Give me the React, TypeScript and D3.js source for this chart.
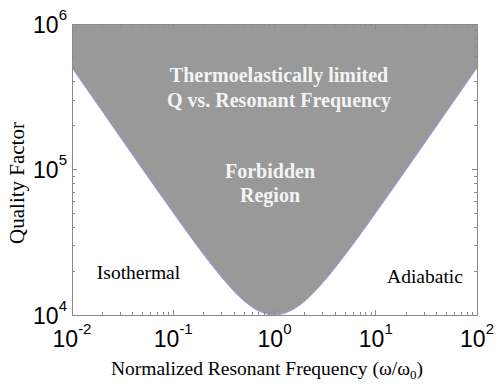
import React, { useEffect, useRef } from 'react';
import * as d3 from 'd3';

// normalized frequency (w/w0) and thermoelastic Q limit
const freq = [0.01, 0.02, 0.05, 0.1, 0.2, 0.3, 0.5, 0.7, 1, 1.4, 2, 3, 5, 10, 20, 50, 100];
const qLimit = [500000, 250000, 100000, 50500, 26000, 18200, 12500, 10650, 10000, 10600, 12500, 16700, 26000, 50500, 100000, 250000, 500000];

const xDecades = [-2, -1, 0, 1, 2];
const yDecades = [4, 5, 6];

export default function App() {
  const svgRef = useRef<SVGSVGElement>(null);

  useEffect(() => {
    if (!svgRef.current) return;
    const width = 496;
    const height = 385;
    const m = { left: 72, right: 477, top: 24, bottom: 315 };

    const svg = d3.select(svgRef.current);
    svg.selectAll('*').remove();
    svg.attr('width', width).attr('height', height);

    const x = d3.scaleLog().domain([0.01, 100]).range([m.left, m.right]);
    const y = d3.scaleLog().domain([1e4, 1e6]).range([m.bottom, m.top]);

    const pts = freq.map((f, i) => ({ f, q: qLimit[i] }));

    svg.append('rect').attr('x', 0).attr('y', 0).attr('width', width).attr('height', height).attr('fill', '#fff');

    const area = d3
      .area<{ f: number; q: number }>()
      .x((d) => x(d.f))
      .y0(m.top)
      .y1((d) => y(d.q))
      .curve(d3.curveMonotoneX);

    svg.append('path').datum(pts).attr('d', area).attr('fill', '#999999');

    const line = d3
      .line<{ f: number; q: number }>()
      .x((d) => x(d.f))
      .y((d) => y(d.q))
      .curve(d3.curveMonotoneX);

    svg.append('path').datum(pts).attr('d', line).attr('fill', 'none').attr('stroke', '#9a9aee').attr('stroke-width', 1);

    // box and ticks
    const axisColor = '#8a8a8a';
    const g = svg.append('g').attr('stroke', axisColor).attr('stroke-width', 1).attr('shape-rendering', 'crispEdges');
    g.append('rect')
      .attr('x', m.left)
      .attr('y', m.top)
      .attr('width', m.right - m.left)
      .attr('height', m.bottom - m.top)
      .attr('fill', 'none');

    const xTicks: { v: number; major: boolean }[] = [];
    for (let d = -2; d < 2; d++) {
      for (let k = 1; k < 10; k++) xTicks.push({ v: k * Math.pow(10, d), major: k === 1 });
    }
    xTicks.push({ v: 100, major: true });
    xTicks.forEach((t) => {
      const px = x(t.v);
      const len = t.major ? 5 : 3;
      g.append('line').attr('x1', px).attr('x2', px).attr('y1', m.bottom).attr('y2', m.bottom - len);
      g.append('line').attr('x1', px).attr('x2', px).attr('y1', m.top).attr('y2', m.top + len);
    });

    const yTicks: { v: number; major: boolean }[] = [];
    for (let d = 4; d < 6; d++) {
      for (let k = 1; k < 10; k++) yTicks.push({ v: k * Math.pow(10, d), major: k === 1 });
    }
    yTicks.push({ v: 1e6, major: true });
    yTicks.forEach((t) => {
      const py = y(t.v);
      const len = t.major ? 5 : 3;
      g.append('line').attr('x1', m.left).attr('x2', m.left + len).attr('y1', py).attr('y2', py);
      g.append('line').attr('x1', m.right).attr('x2', m.right - len).attr('y1', py).attr('y2', py);
    });

    const sans = 'Liberation Sans, Arial, sans-serif';
    const serif = 'Liberation Serif, Times New Roman, serif';

    xDecades.forEach((d) => {
      const t = svg
        .append('text')
        .attr('x', x(Math.pow(10, d)))
        .attr('y', 347)
        .attr('text-anchor', 'middle')
        .attr('font-family', sans)
        .attr('font-size', 23)
        .attr('fill', '#000');
      t.append('tspan').text('10');
      t.append('tspan').attr('dy', -13).attr('font-size', 15).text(String(d));
    });

    yDecades.forEach((d) => {
      const t = svg
        .append('text')
        .attr('x', 67)
        .attr('y', y(Math.pow(10, d)) + 8.5)
        .attr('text-anchor', 'end')
        .attr('font-family', sans)
        .attr('font-size', 23)
        .attr('fill', '#000');
      t.append('tspan').text('10');
      t.append('tspan').attr('dy', -13).attr('font-size', 15).text(String(d));
    });

    const xl = svg
      .append('text')
      .attr('x', 267)
      .attr('y', 375)
      .attr('text-anchor', 'middle')
      .attr('font-family', serif)
      .attr('font-size', 19.5)
      .attr('fill', '#000');
    xl.append('tspan').text('Normalized Resonant Frequency (ω/ω');
    xl.append('tspan').attr('dy', 4).attr('font-size', 13).text('0');
    xl.append('tspan').attr('dy', -4).text(')');

    svg
      .append('text')
      .attr('transform', 'translate(24,183) rotate(-90)')
      .attr('text-anchor', 'middle')
      .attr('font-family', serif)
      .attr('font-size', 21)
      .attr('fill', '#000')
      .text('Quality Factor');

    const white = [
      { t: 'Thermoelastically limited', x: 279, y: 82 },
      { t: 'Q vs. Resonant Frequency', x: 279, y: 107 },
      { t: 'Forbidden', x: 270, y: 178 },
      { t: 'Region', x: 270, y: 202 },
    ];
    white.forEach((w) => {
      svg
        .append('text')
        .attr('x', w.x)
        .attr('y', w.y)
        .attr('text-anchor', 'middle')
        .attr('font-family', serif)
        .attr('font-weight', 'bold')
        .attr('font-size', 20)
        .attr('fill', '#f4f4f4')
        .text(w.t);
    });

    svg
      .append('text')
      .attr('x', 138.5)
      .attr('y', 279)
      .attr('text-anchor', 'middle')
      .attr('font-family', serif)
      .attr('font-size', 19.5)
      .attr('fill', '#000')
      .text('Isothermal');
    svg
      .append('text')
      .attr('x', 425)
      .attr('y', 283)
      .attr('text-anchor', 'middle')
      .attr('font-family', serif)
      .attr('font-size', 19.5)
      .attr('fill', '#000')
      .text('Adiabatic');
  }, []);

  return (
    <div style={{ position: 'absolute', left: 0, top: 0 }}>
      <svg ref={svgRef} style={{ display: 'block' }} />
    </div>
  );
}
